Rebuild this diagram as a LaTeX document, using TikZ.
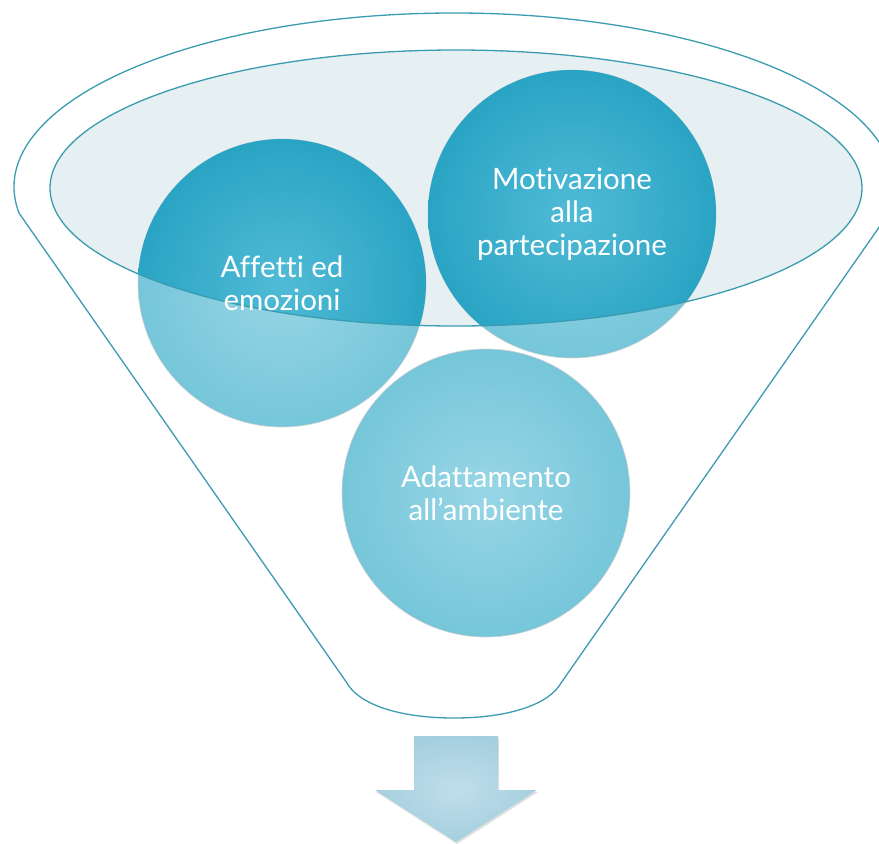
\documentclass[tikz,border=0pt]{standalone}
\usepackage{fontspec}
\setmainfont{Lato}[Ligatures={NoCommon}]
\usepackage{xcolor}
\usepackage{tikz}
\usetikzlibrary{backgrounds, shadows}
\definecolor{funnelline}{RGB}{58,156,176}
\definecolor{rimbg}{RGB}{230,239,241}
\definecolor{deepteal}{RGB}{42,164,196}
\definecolor{deeptealin}{RGB}{80,187,214}
\definecolor{paleteal}{RGB}{118,198,218}
\definecolor{paletealin}{RGB}{152,214,230}
\definecolor{arrowout}{RGB}{165,207,223}
\definecolor{arrowin}{RGB}{192,222,235}

\begin{document}
\begin{tikzpicture}[x=1pt, y=-1pt,
    bubble/.style={circle, minimum size=288pt, align=center, text=white, font=\fontsize{29.5}{33}\selectfont},
    paleball/.style={shading=radial, inner color=paletealin, outer color=paleteal, draw=black!18, line width=0.6pt},
    deepball/.style={shading=radial, inner color=deeptealin, outer color=deepteal},
    rim/.style={draw=funnelline, line width=1.3pt}
]
\useasboundingbox (0,0) rectangle (879,844);

\node[bubble] (affetti) at (282,283) {Affetti ed\\emozioni};
\node[bubble] (motiv) at (572,214) {Motivazione\\alla\\partecipazione};
\node[bubble] (adatt) at (486,493) {Adattamento\\all’ambiente};

% funnel
\coordinate (mouth) at (456,188);
\coordinate (lipL) at (19,213);
\coordinate (neckL) at (347,683);
\coordinate (neckR) at (561,683);
\coordinate (base) at (454,718);

\begin{scope}[on background layer]
  \fill[rimbg] (mouth) ellipse[x radius=406, y radius=138];
  \foreach \b in {affetti,motiv,adatt}
    \path[paleball] (\b.center) circle[radius=144];
  \begin{scope}
    \clip (mouth) ellipse[x radius=406, y radius=138];
    \foreach \b in {affetti,motiv}
      \path[deepball] (\b.center) circle[radius=144];
  \end{scope}
  \draw[rim] (mouth) ellipse[x radius=406, y radius=138];
  \draw[rim] (lipL) arc[start angle=171.4, end angle=368.6, x radius=440, y radius=174]
    -- (neckR) .. controls (550,703) and (512,718) .. (base)
    .. controls (396,718) and (358,703) .. (neckL) -- cycle;
\end{scope}

% arrow
\coordinate (shaftL) at (414,736);
\coordinate (shaftR) at (498,736);
\coordinate (arrowtip) at (456,842);
\shade[inner color=arrowin, outer color=arrowout,
  drop shadow={opacity=0.25, shadow xshift=1pt, shadow yshift=-2pt}]
  (shaftL) -- (shaftR) -- (shaftR |- 0,790) -- (537,790) -- (arrowtip)
  -- (375,790) -- (shaftL |- 0,790) -- cycle;

\end{tikzpicture}
\end{document}
